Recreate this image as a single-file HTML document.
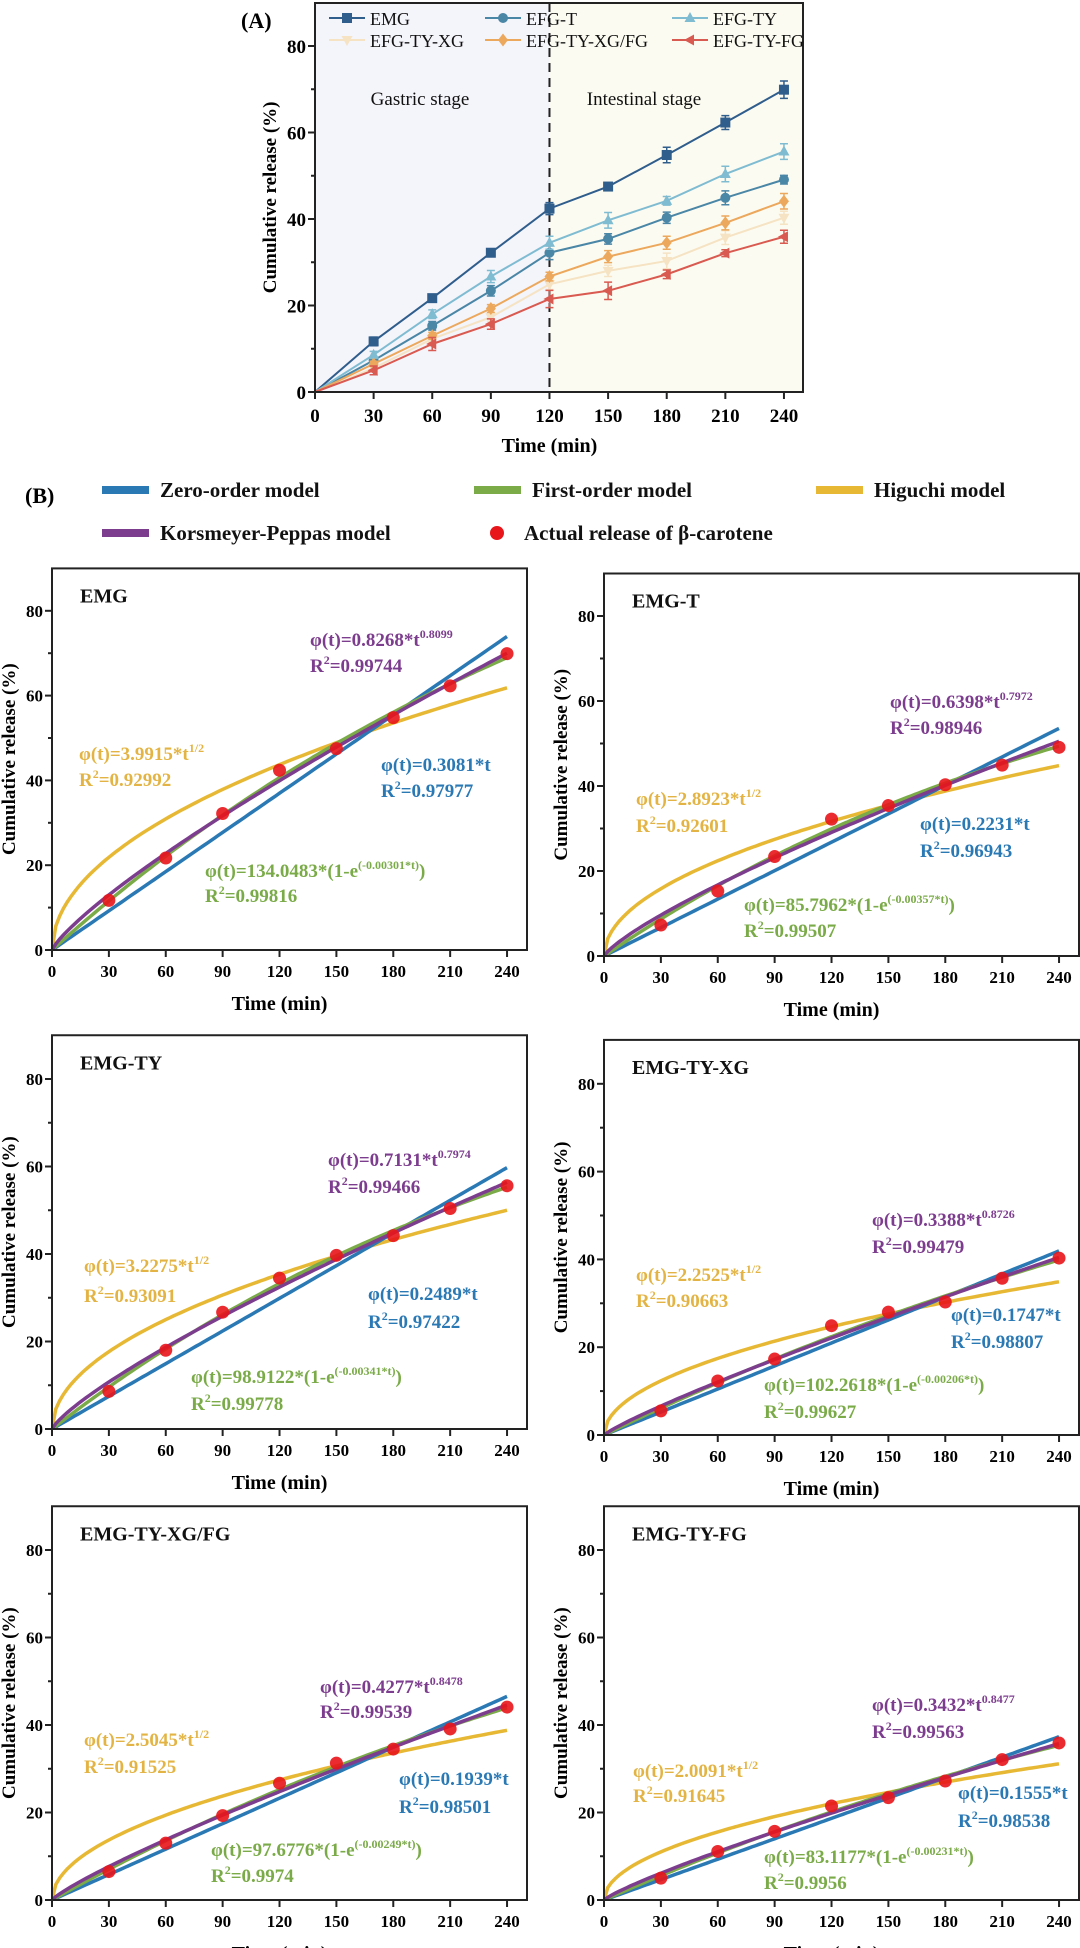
<!DOCTYPE html>
<html><head><meta charset="utf-8"><style>
html,body{margin:0;padding:0;background:#fff;}
svg{display:block;font-family:"Liberation Serif",serif;font-weight:bold;}
</style></head><body>
<svg id="fig" width="1080" height="1948" viewBox="0 0 1080 1948" xmlns="http://www.w3.org/2000/svg"></svg>
<script>
// ---------- data ----------
const times=[0,30,60,90,120,150,180,210,240];
const seriesNames=['EMG','EFG-T','EFG-TY','EFG-TY-XG','EFG-TY-XG/FG','EFG-TY-FG'];
const vEMG=[0,11.7,21.7,32.2,42.4,47.5,54.8,62.3,69.9];
const vT=[0,7.3,15.3,23.4,32.2,35.4,40.3,44.9,49.1];
const vTY=[0,8.6,18.0,26.7,34.5,39.7,44.2,50.4,55.6];
const vXG=[0,5.5,12.3,17.3,24.9,28.0,30.3,35.7,40.3];
const vXGFG=[0,6.5,13.0,19.3,26.7,31.3,34.5,39.1,44.1];
const vFG=[0,5.0,11.1,15.7,21.5,23.4,27.2,32.1,35.9];
const eEMG=[0,1.0,0.8,0.9,1.4,0.9,1.8,1.6,2.0];
const eT=[0,0.6,1.0,1.2,1.6,1.2,1.3,1.6,1.0];
const eTY=[0,0.8,1.0,1.4,1.5,1.8,1.0,1.8,1.8];
const eXG=[0,0.6,0.8,0.9,1.2,1.3,1.8,1.6,1.5];
const eXGFG=[0,0.6,0.8,0.9,1.0,1.4,1.5,1.6,1.8];
const eFG=[0,1.0,1.5,1.2,2.0,2.0,1.0,0.8,1.5];
const subNames=['EMG','EMG-T','EMG-TY','EMG-TY-XG','EMG-TY-XG/FG','EMG-TY-FG'];
const zeroK=[0.3081,0.2231,0.2489,0.1747,0.1939,0.1555];
const zeroR2=['0.97977','0.96943','0.97422','0.98807','0.98501','0.98538'];
const firstA=[134.0483,85.7962,98.9122,102.2618,97.6776,83.1177];
const firstK=[0.00301,0.00357,0.00341,0.00206,0.00249,0.00231];
const firstR2=['0.99816','0.99507','0.99778','0.99627','0.9974','0.9956'];
const higK=[3.9915,2.8923,3.2275,2.2525,2.5045,2.0091];
const higR2=['0.92992','0.92601','0.93091','0.90663','0.91525','0.91645'];
const kpK=[0.8268,0.6398,0.7131,0.3388,0.4277,0.3432];
const kpN=[0.8099,0.7972,0.7974,0.8726,0.8478,0.8477];
const kpR2=['0.99744','0.98946','0.99466','0.99479','0.99539','0.99563'];
const yTicks=[0,20,40,60,80];
const xTicks=[0,30,60,90,120,150,180,210,240];

const allVals=[vEMG,vT,vTY,vXG,vXGFG,vFG];
const allErr=[eEMG,eT,eTY,eXG,eXGFG,eFG];
const NS='http://www.w3.org/2000/svg';
const svg=document.getElementById('fig');
function mk(parent,tag,attrs,text){const e=document.createElementNS(NS,tag);for(const k in attrs)e.setAttribute(k,attrs[k]);if(text!==undefined)e.textContent=text;parent.appendChild(e);return e;}

// ---------- Panel A ----------
const A={L:315,R:803,y0:392,top:3,px:1.954,py:4.325};
const ax=t=>A.L+t*A.px, ay=v=>A.y0-v*A.py;
const gA=mk(svg,'g',{});


const bg1=mk(gA,'rect',{x:A.L,y:A.top,width:ax(120)-A.L,height:A.y0-A.top,fill:'#f4f4fb'});


const bg2=mk(gA,'rect',{x:ax(120),y:A.top,width:A.R-ax(120),height:A.y0-A.top,fill:'#fcfbf1'});


const dl=mk(gA,'line',{x1:ax(120),x2:ax(120),y1:A.top,y2:A.y0,stroke:'#222','stroke-width':2,'stroke-dasharray':'9,6'});


const t1=mk(gA,'text',{x:420,y:105,'text-anchor':'middle','font-size':19,'font-weight':'normal',fill:'#111'},'Gastric stage');


const t2=mk(gA,'text',{x:644,y:105,'text-anchor':'middle','font-size':19,'font-weight':'normal',fill:'#111'},'Intestinal stage');


const colorsA=['#2f5d8c','#4a86a6','#7fbcd2','#f5e3c3','#eca85c','#d95a50'];
const markersA=['square','circle','tri-up','tri-down','diamond','tri-left'];
function marker(g,type,x,y,c,s){
  let e;
  if(type==='square')e=mk(g,'rect',{x:x-s,y:y-s,width:2*s,height:2*s,fill:c});
  else if(type==='circle')e=mk(g,'circle',{cx:x,cy:y,r:s,fill:c});
  else if(type==='tri-up')e=mk(g,'polygon',{points:`${x},${y-s*1.2} ${x-s*1.1},${y+s*0.8} ${x+s*1.1},${y+s*0.8}`,fill:c});
  else if(type==='tri-down')e=mk(g,'polygon',{points:`${x},${y+s*1.2} ${x-s*1.1},${y-s*0.8} ${x+s*1.1},${y-s*0.8}`,fill:c});
  else if(type==='diamond')e=mk(g,'polygon',{points:`${x},${y-s*1.3} ${x+s},${y} ${x},${y+s*1.3} ${x-s},${y}`,fill:c});
  else e=mk(g,'polygon',{points:`${x-s*1.2},${y} ${x+s*0.8},${y-s*1.1} ${x+s*0.8},${y+s*1.1}`,fill:c});
  return e;
}
for(let si=0;si<6;si++){
  const g=mk(gA,'g',{});
  
  
  const vals=allVals[si],errs=allErr[si],c=colorsA[si];
  mk(g,'polyline',{points:times.map((t,i)=>ax(t)+','+ay(vals[i])).join(' '),fill:'none',stroke:c,'stroke-width':2});
  times.forEach((t,i)=>{
    if(i===0)return;
    const x=ax(t),e=errs[i];
    const eb=mk(g,'path',{d:`M${x},${ay(vals[i]+e)}V${ay(vals[i]-e)}M${x-4},${ay(vals[i]+e)}H${x+4}M${x-4},${ay(vals[i]-e)}H${x+4}`,stroke:c,'stroke-width':1.5,fill:'none'});
    
    
    const m=marker(g,markersA[si],x,ay(vals[i]),c,5);
    
    
  });
}
mk(gA,'rect',{x:A.L,y:A.top,width:A.R-A.L,height:A.y0-A.top,fill:'none',stroke:'#222','stroke-width':2});
const yAx=mk(gA,'g',{});


for(let v=0;v<=80;v+=10){mk(yAx,'line',{x1:A.L,x2:A.L-(v%20===0?7:4),y1:ay(v),y2:ay(v),stroke:'#222','stroke-width':2});}
yTicks.forEach(v=>{mk(yAx,'text',{x:A.L-9,y:ay(v)+7,'text-anchor':'end','font-size':19},String(v));});
const xAx=mk(gA,'g',{});


xTicks.forEach(t=>{mk(xAx,'line',{x1:ax(t),x2:ax(t),y1:A.y0,y2:A.y0+7,stroke:'#222','stroke-width':2});
  mk(xAx,'text',{x:ax(t),y:A.y0+30,'text-anchor':'middle','font-size':19},String(t));});
const xtA=mk(gA,'text',{x:ax(120),y:452,'text-anchor':'middle','font-size':20},'Time (min)');


const ytA=mk(gA,'text',{x:0,y:0,'text-anchor':'middle','font-size':19,transform:`translate(276,${ay(45)}) rotate(-90)`},'Cumulative release (%)');


const lblA=mk(gA,'text',{x:241,y:28,'font-size':22},'(A)');


const legPos=[[329,18],[485,18],[672,18],[329,40],[485,40],[672,40]];
for(let si=0;si<6;si++){
  const g=mk(gA,'g',{});
  
  
  const [lx,ly]=legPos[si];
  mk(g,'line',{x1:lx,x2:lx+36,y1:ly,y2:ly,stroke:colorsA[si],'stroke-width':2});
  marker(g,markersA[si],lx+18,ly,colorsA[si],5);
  mk(g,'text',{x:lx+41,y:ly+7,'font-size':18,'font-weight':'normal',fill:'#111'},seriesNames[si]);
}

// ---------- Panel B legend ----------
const gL=mk(svg,'g',{});


const lblB=mk(gL,'text',{x:25,y:503,'font-size':22},'(B)');


const cZ='#2a79b5',cF='#7aab48',cH='#e7b834',cK='#7d3d8e',cD='#e8151b';
const legB=[[102,490,cZ,'Zero-order model'],[474,490,cF,'First-order model'],[816,490,cH,'Higuchi model'],[102,533,cK,'Korsmeyer-Peppas model']];
legB.forEach(l=>{const g=mk(gL,'g',{});
  
  
  mk(g,'rect',{x:l[0],y:l[1]-4,width:47,height:8,fill:l[2]});
  mk(g,'text',{x:l[0]+58,y:l[1]+7,'font-size':21,fill:'#111'},l[3]);});
{const g=mk(gL,'g',{});
  
  
  mk(g,'circle',{cx:497,cy:533,r:7,fill:cD});
  mk(g,'text',{x:524,y:540,'font-size':21,fill:'#111'},'Actual release of β-carotene');}

// ---------- Panel B subplots ----------
const plots=[
 {L:52,y0:950,py:4.24,ann:[[258,-304,-278],[27,-190,-164],[329,-179,-153],[153,-73,-48]]},
 {L:604,y0:956,py:4.25,ann:[[286,-248,-222],[32,-151,-124],[316,-126,-99],[140,-45,-19]]},
 {L:52,y0:1429,py:4.375,ann:[[276,-263,-236],[32,-157,-127],[316,-129,-101],[139,-46,-19]]},
 {L:604,y0:1435,py:4.39,ann:[[268,-209,-182],[32,-154,-128],[347,-114,-87],[160,-44,-17]]},
 {L:52,y0:1900,py:4.375,ann:[[268,-207,-182],[32,-154,-127],[347,-115,-87],[159,-44,-18]]},
 {L:604,y0:1900,py:4.375,ann:[[268,-189,-162],[29,-123,-98],[354,-101,-73],[160,-37,-11]]}
];
const PX=1.896;
// parts: [text, dy, small]
function supText(g,x,y,color,parts){
  const t=mk(g,'text',{x:x,y:y,'font-size':19,fill:color});
  parts.forEach(p=>{
    const at={};
    if(p[1])at.dy=p[1];
    at['font-size']=p[2]?12:19;
    mk(t,'tspan',at,p[0]);
  });
  return t;
}
plots.forEach((P,pi)=>{
  const g=mk(svg,'g',{});
  
  
  const sx=t=>P.L+t*PX, sy=v=>P.y0-v*P.py;
  const top=sy(90), right=P.L+475;
  mk(g,'defs',{}).innerHTML=`<clipPath id="clip${pi}"><rect x="${P.L}" y="${top}" width="${right-P.L}" height="${P.y0-top}"/></clipPath>`;
  const cg=mk(g,'g',{'clip-path':`url(#clip${pi})`});
  const samp=[];for(let t=0;t<=240;t+=2)samp.push(t);
  const models=[
    ['higuchi-curve',cH,t=>higK[pi]*Math.sqrt(t)],
    ['zero-order-line',cZ,t=>zeroK[pi]*t],
    ['first-order-curve',cF,t=>firstA[pi]*(1-Math.exp(-firstK[pi]*t))],
    ['korsmeyer-peppas-curve',cK,t=>kpK[pi]*Math.pow(t,kpN[pi])]
  ];
  const vals=allVals[pi];
  models.forEach(m=>{const pl=mk(cg,'polyline',{points:samp.map(t=>sx(t).toFixed(1)+','+sy(m[2](t)).toFixed(1)).join(' '),fill:'none',stroke:m[1],'stroke-width':3.5});
    
    });
  times.forEach((t,i)=>{if(i===0)return;
    const d=mk(cg,'circle',{cx:sx(t),cy:sy(vals[i]),r:6.5,fill:cD,'fill-opacity':0.9});
    
    });
  mk(g,'rect',{x:P.L,y:top,width:right-P.L,height:P.y0-top,fill:'none',stroke:'#222','stroke-width':2});
  for(let v=0;v<=80;v+=10)mk(g,'line',{x1:P.L,x2:P.L-(v%20===0?7:4),y1:sy(v),y2:sy(v),stroke:'#222','stroke-width':2});
  yTicks.forEach(v=>mk(g,'text',{x:P.L-9,y:sy(v)+6,'text-anchor':'end','font-size':17},String(v)));
  xTicks.forEach(t=>{mk(g,'line',{x1:sx(t),x2:sx(t),y1:P.y0,y2:P.y0+7,stroke:'#222','stroke-width':2});
    mk(g,'text',{x:sx(t),y:P.y0+27,'text-anchor':'middle','font-size':17},String(t));});
  const xt=mk(g,'text',{x:sx(120),y:P.y0+60,'text-anchor':'middle','font-size':20},'Time (min)');
  
  
  const yt=mk(g,'text',{x:0,y:0,'text-anchor':'middle','font-size':19,transform:`translate(${P.L-37},${sy(45)}) rotate(-90)`},'Cumulative release (%)');
  
  
  const st=mk(g,'text',{x:P.L+28,y:top+34,'font-size':20,fill:'#111'},subNames[pi]);
  
  
  const A_=P.ann;
  const hc='#e3b444';
  const e1=supText(g,P.L+A_[0][0],P.y0+A_[0][1],cK,[['φ(t)='+kpK[pi].toFixed(4)+'*t',0,false],[kpN[pi].toFixed(4),-8,true]]);
  
  
  supText(g,P.L+A_[0][0],P.y0+A_[0][2],cK,[['R',0,false],['2',-8,true],['='+kpR2[pi],8,false]]);
  const e2=supText(g,P.L+A_[1][0],P.y0+A_[1][1],hc,[['φ(t)='+higK[pi].toFixed(4)+'*t',0,false],['1/2',-8,true]]);
  
  
  supText(g,P.L+A_[1][0],P.y0+A_[1][2],hc,[['R',0,false],['2',-8,true],['='+higR2[pi],8,false]]);
  const e3=supText(g,P.L+A_[2][0],P.y0+A_[2][1],cZ,[['φ(t)='+zeroK[pi].toFixed(4)+'*t',0,false]]);
  
  
  supText(g,P.L+A_[2][0],P.y0+A_[2][2],cZ,[['R',0,false],['2',-8,true],['='+zeroR2[pi],8,false]]);
  const e4=supText(g,P.L+A_[3][0],P.y0+A_[3][1],cF,[['φ(t)='+firstA[pi].toFixed(4)+'*(1-e',0,false],['(-'+firstK[pi].toFixed(5)+'*t)',-8,true],[')',8,false]]);
  
  
  supText(g,P.L+A_[3][0],P.y0+A_[3][2],cF,[['R',0,false],['2',-8,true],['='+firstR2[pi],8,false]]);
});
</script>
</body></html>
